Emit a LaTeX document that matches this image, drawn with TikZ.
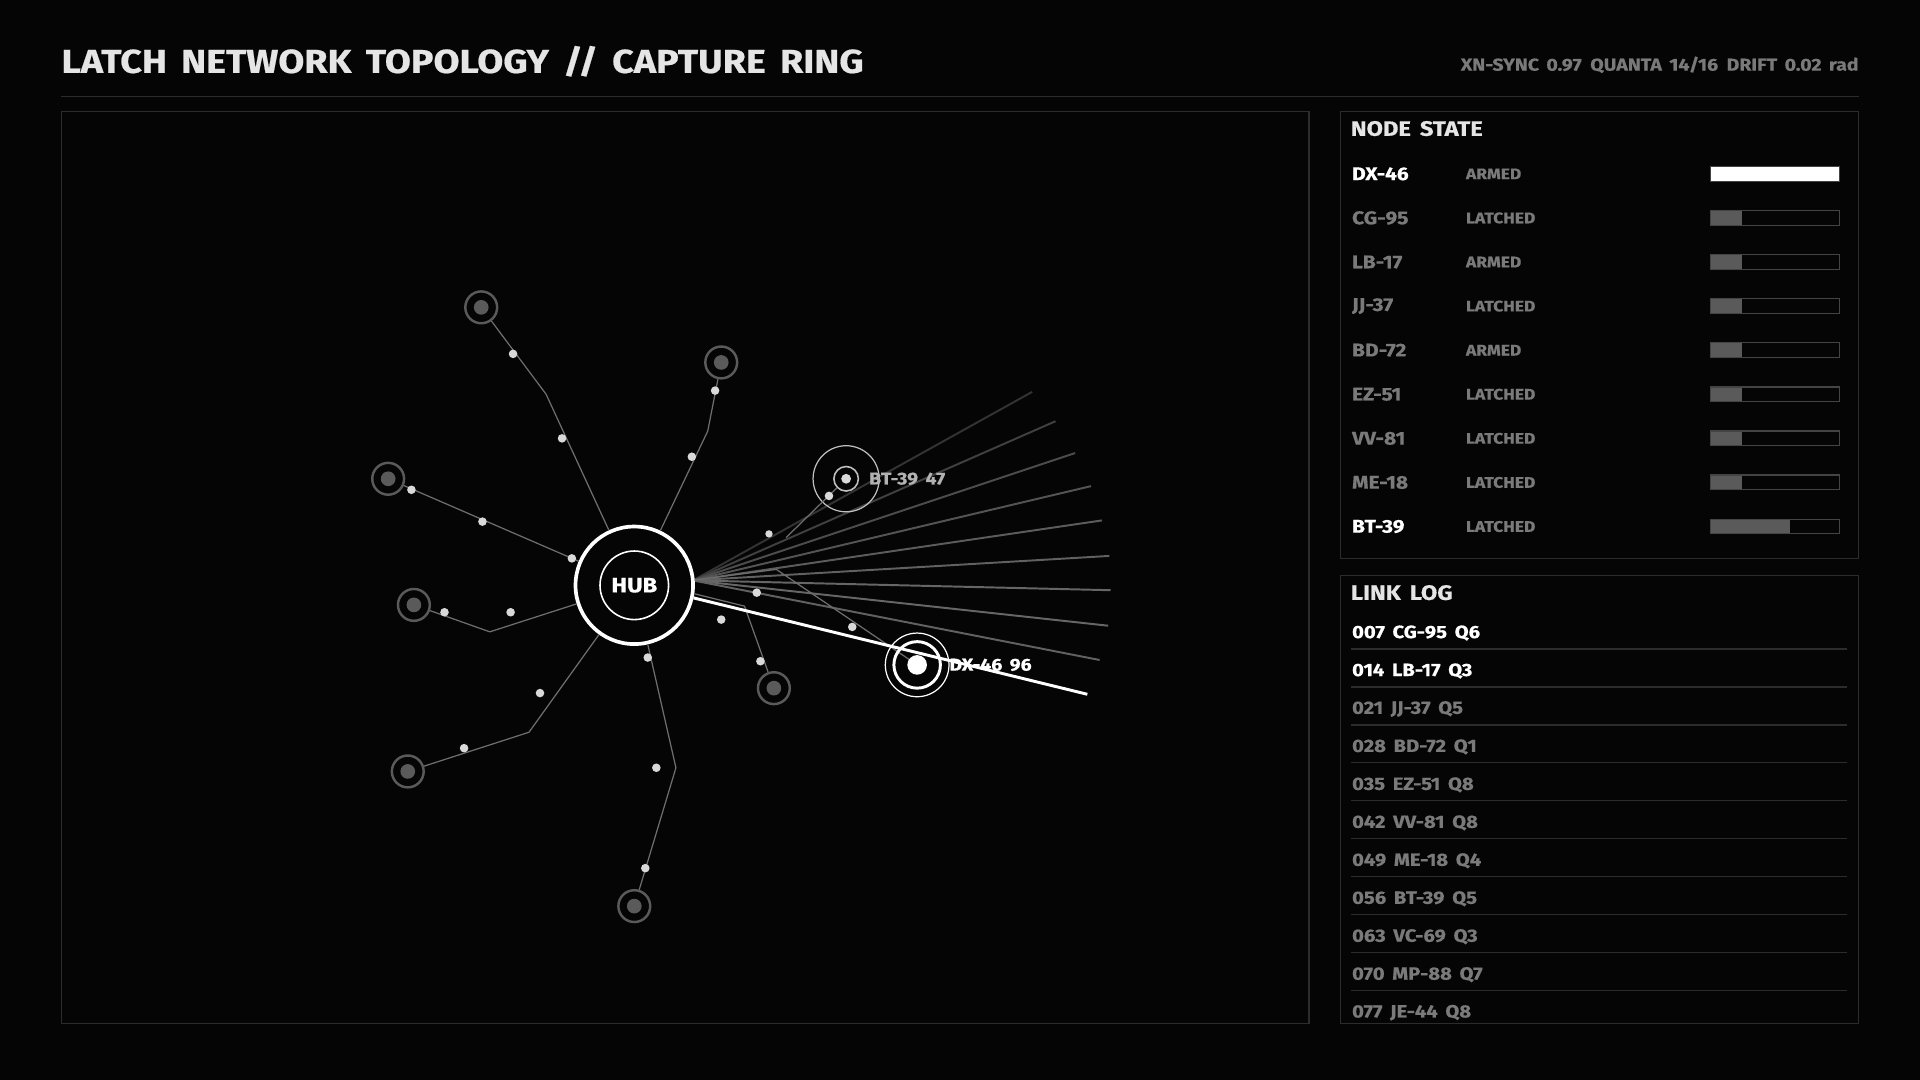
\documentclass[tikz,border=0pt]{standalone}
\usepackage{fontspec}
\setmainfont{Fira Sans}[BoldFeatures={FakeStretch=1.14,FakeBold=0.6},WordSpace=1.6]
\usetikzlibrary{positioning}
\definecolor{bgc}{HTML}{050505}
\definecolor{frame}{HTML}{2C2C2C}
\definecolor{barframe}{HTML}{444444}
\definecolor{dim}{HTML}{7A7A7A}
\definecolor{wire}{HTML}{6E6E6E}
\definecolor{leaf}{HTML}{5A5A5A}
\tikzset{
  txt/.style={inner sep=0pt, anchor=west, font=\bfseries\fontsize{#1}{#1}\selectfont},
  leafnode/.style={circle, draw=leaf, line width=2pt, minimum size=26pt, inner sep=0pt,
    path picture={\fill[leaf] (path picture bounding box.center) circle (6pt);}},
  dot/.style={circle, fill=white!85!black, minimum size=7pt, inner sep=0pt},
  branch/.style={draw=wire, line width=1pt},
  fan/.style={draw=#1, line width=1.6pt},
}
\begin{document}
\begin{tikzpicture}[x=1pt, y=-1pt]
  \fill[bgc] (0,0) rectangle (1568,882);
  \useasboundingbox (0,0) rectangle (1568,882);
  % header
  \node[txt=27, text=white!90!black] (title) at (50,50) {LATCH NETWORK TOPOLOGY // CAPTURE RING};
  \node[txt=14, text=dim, anchor=east] (meta) at (1518,53) {XN-SYNC 0.97\enspace QUANTA 14/16\enspace DRIFT 0.02 rad};
  \draw[frame, line width=1.2pt] (50,79) -- (1518,79);
  % panels
  \draw[frame, line width=1pt] (50,91) rectangle (1069,836);
  \draw[frame, line width=1pt] (1095,91) rectangle (1518,456);
  \draw[frame, line width=1pt] (1095,470) rectangle (1518,836);

  % fan of capture lines
  \foreach \ex/\ey/\c in {843/320/20,862/344/25,878/370/30,891/397/33,900/425/36,906/454/38,907/482/40,905/511/40,898/539/38}
    \draw[fan=white!\c!black] (566,474) -- (\ex,\ey);

  % hub
  \node[circle, draw=white, line width=3pt, minimum size=96pt, fill=bgc] (hub) at (518,478) {};
  \node[circle, draw=white, line width=1.3pt, minimum size=56pt] (hubin) at (hub) {};
  \node[txt=17, anchor=center, text=white] at (hub) {HUB};

  % leaves
  \node[leafnode] (l1) at (393,251) {};
  \node[leafnode] (l2) at (589,296) {};
  \node[leafnode] (l3) at (317,391) {};
  \node[leafnode] (l4) at (338,494) {};
  \node[leafnode] (l5) at (333,630) {};
  \node[leafnode] (l6) at (518,740) {};
  \node[leafnode] (l7) at (632,562) {};

  \path[branch] (hub) -- (446,322) -- (l1);
  \path[branch] (hub) -- (578,352) -- (l2);
  \path[branch] (hub) -- (l3);
  \path[branch] (hub) -- (400,516) -- (l4);
  \path[branch] (hub) -- (432,598) -- (l5);
  \path[branch] (hub) -- (552,627) -- (l6);
  \path[branch] (hub.-8) -- (608,495) -- (l7);

  % capture targets
  \node[circle, draw=white!75!black, line width=1pt, minimum size=54pt] (bt) at (691,391) {};
  \node[circle, draw=white!75!black, line width=1.3pt, minimum size=20pt] (btin) at (bt) {};
  \fill[white!85!black] (bt) circle (4pt);
  \node[txt=14, text=white!70!black, right=8pt of btin] (btlabel) {BT-39 47};
  \coordinate (btfoot) at (642,439);
  \path[branch] (btfoot) -- (btin);

  \coordinate (dxkink) at (634,465);
  \path[branch] (hub.5) -- (dxkink) -- (749,543);
  \node[circle, draw=white, line width=1pt, minimum size=52pt] (dx) at (749,543) {};
  \node[circle, draw=white, line width=2.4pt, minimum size=38pt] (dxin) at (dx) {};
  \fill[white] (dx) circle (8pt);
  \coordinate (dxend) at (888,567);
  \draw[white, line width=2.4pt] (hub.-12) -- (dxend);
  \node[txt=14, text=white, right=6pt of dxin] (dxlabel) {DX-46 96};

  % relay dots
  \foreach \px/\py in {419/289,459/358,584/319,565/373,336/400,394/426,467/456,363/500,417/500,
      379/611,441/566,529/537,536/627,527/709,589/506,618/484,621/540,677/405,696/512}
    \node[dot] at (\px,\py) {};
  \node[circle, fill=white!85!black, minimum size=6pt, inner sep=0pt] (half) at (628,436) {};

  % node state
  \node[txt=17, text=white!90!black] (nstitle) at (1103,105) {NODE STATE};
  \foreach \id/\st/\w/\ic/\fc [count=\i from 0] in {DX-46/ARMED/105/white/white,CG-95/LATCHED/26/dim/leaf,
      LB-17/ARMED/26/dim/leaf,JJ-37/LATCHED/26/dim/leaf,BD-72/ARMED/26/dim/leaf,EZ-51/LATCHED/26/dim/leaf,
      VV-81/LATCHED/26/dim/leaf,ME-18/LATCHED/26/dim/leaf,BT-39/LATCHED/65/white/leaf}{
    \pgfmathsetmacro\ry{142+36*\i}
    \node[txt=15, text=\ic] at (1104,\ry) {\id};
    \node[txt=12.5, text=dim] at (1197,\ry) {\st};
    \fill[\fc] (1397,\ry-6) rectangle ++(\w,12);
    \draw[barframe, line width=1pt] (1397,\ry-6) rectangle (1502,\ry+6);
  }

  % link log
  \node[txt=17, text=white!90!black] (lltitle) at (1103,484) {LINK LOG};
  \foreach \entry/\ec [count=\i from 0] in {007 CG-95 Q6/white,014 LB-17 Q3/white,021 JJ-37 Q5/dim,
      028 BD-72 Q1/dim,035 EZ-51 Q8/dim,042 VV-81 Q8/dim,049 ME-18 Q4/dim,056 BT-39 Q5/dim,
      063 VC-69 Q3/dim,070 MP-88 Q7/dim,077 JE-44 Q8/dim}{
    \pgfmathsetmacro\ry{517+31*\i}
    \node[txt=14.5, text=\ec] at (1104,\ry) {\entry};
  }
  \foreach \i in {0,...,9}
    \draw[frame, line width=1pt] (1103,530+31*\i) -- (1508,530+31*\i);
\end{tikzpicture}
\end{document}
